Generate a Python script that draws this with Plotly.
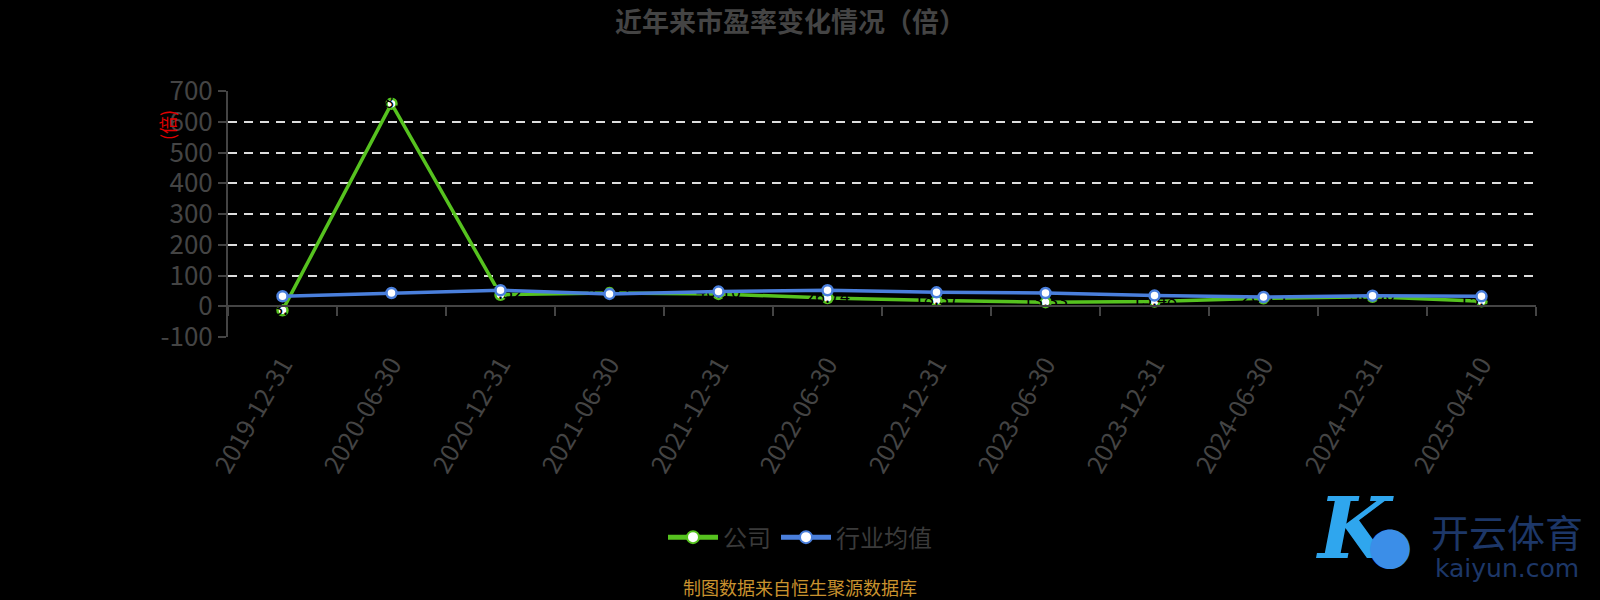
import plotly.graph_objects as go

# data
dates = ['2019-12-31', '2020-06-30', '2020-12-31', '2021-06-30', '2021-12-31', '2022-06-30',
         '2022-12-31', '2023-06-30', '2023-12-31', '2024-06-30', '2024-12-31', '2025-04-10']
company_pe = [-13.27, 658.91, 37.52, 42.81, 40.10, 26.74, 18.37, 13.33, 15.48, 26.15, 30.50, 15.92]
industry_pe = [32.40, 43.10, 52.05, 40.20, 47.60, 52.10, 45.30, 43.20, 34.60, 30.10, 34.50, 32.20]

y_ticks = [-100, 0, 100, 200, 300, 400, 500, 600, 700]

GREEN = '#56c21f'
BLUE = '#4a7fdc'
FONT = 'Noto Sans CJK SC'


def px_x(v):
    # pixel column -> paper x (plot area runs 228..1536)
    return (v - 228) / 1308


def px_y(v):
    # pixel row -> paper y (plot area runs 91..337)
    return (336.7 - v) / 245.7


fig = go.Figure()

# company line
fig.add_trace(go.Scatter(
    x=dates, y=company_pe, name='公司', mode='lines+markers+text',
    line=dict(color=GREEN, width=3.5),
    marker=dict(size=10, color='white', line=dict(color=GREEN, width=2.5)),
    text=[f'{v:.2f}' for v in company_pe], textposition='middle center',
    textfont=dict(color='black', size=18, family=FONT),
))

# industry average line
fig.add_trace(go.Scatter(
    x=dates, y=industry_pe, name='行业均值', mode='lines+markers',
    line=dict(color=BLUE, width=3.5),
    marker=dict(size=10, color='white', line=dict(color=BLUE, width=2.5)),
))

fig.update_layout(
    width=1600, height=600,
    paper_bgcolor='black', plot_bgcolor='black',
    font=dict(family=FONT, color='#444444'),
    margin=dict(l=228, r=64, t=91, b=263, autoexpand=False),
    title=dict(text='<b>近年来市盈率变化情况（倍）</b>', x=0.494, xref='container',
               y=0.962, yanchor='middle', font=dict(size=27, color='#444444')),
    showlegend=True,
    legend=dict(orientation='h', x=px_x(800), xanchor='center',
                y=px_y(537), yanchor='middle', font=dict(size=24, color='#3a3a3a'),
                itemsizing='constant', itemwidth=50, bgcolor='rgba(0,0,0,0)'),
    xaxis=dict(
        type='category', range=[-0.5, len(dates) - 0.5], anchor='free', position=0.125,
        showline=True, linecolor='#444444', linewidth=2,
        ticks='outside', tickson='boundaries', ticklen=9, tickcolor='#444444', tickwidth=2,
        tickangle=-60, tickfont=dict(size=25, color='#444444'),
        ticklabelstandoff=33, showgrid=False, zeroline=False, automargin=False,
    ),
    yaxis=dict(
        range=[-100, 700], tickvals=y_ticks, ticktext=[str(v) for v in y_ticks],
        showline=True, linecolor='#444444', linewidth=2,
        ticks='outside', ticklen=8, tickcolor='#444444', tickwidth=2,
        tickfont=dict(size=26, color='#444444'),
        showgrid=True, gridcolor='#dddddd', gridwidth=1.5, griddash='9px,7px',
        zeroline=False, automargin=False,
    ),
)

# y axis unit label
fig.add_annotation(text='(倍)', xref='paper', yref='paper', x=px_x(167), y=px_y(125),
                   xanchor='center', yanchor='middle',
                   textangle=-90, showarrow=False, font=dict(size=18, color='#e00000'))

# source note
fig.add_annotation(text='制图数据来自恒生聚源数据库', xref='paper', yref='paper',
                   x=px_x(800), y=px_y(586), xanchor='center', yanchor='middle',
                   showarrow=False, font=dict(size=18, color='#c9922e'))

# watermark
fig.add_annotation(text='<i><b>K</b></i>', xref='paper', yref='paper', x=px_x(1355), y=px_y(528),
                   xanchor='center', yanchor='middle', showarrow=False,
                   font=dict(size=84, color='#2fa6ee', family='DejaVu Serif'))
fig.add_annotation(text='●', xref='paper', yref='paper', x=px_x(1390), y=px_y(546),
                   xanchor='center', yanchor='middle', showarrow=False,
                   font=dict(size=44, color='#3b8ee8'))
fig.add_annotation(text='开云体育', xref='paper', yref='paper', x=px_x(1507), y=px_y(530),
                   xanchor='center', yanchor='middle', showarrow=False,
                   font=dict(size=38, color='#1d3768'))
fig.add_annotation(text='kaiyun.com', xref='paper', yref='paper', x=px_x(1507), y=px_y(568),
                   xanchor='center', yanchor='middle', showarrow=False,
                   font=dict(size=25, color='#1d3768', family='DejaVu Sans'))

fig.write_html('out.html', config={'displayModeBar': False},
               post_script="document.body.style.margin='0';")
